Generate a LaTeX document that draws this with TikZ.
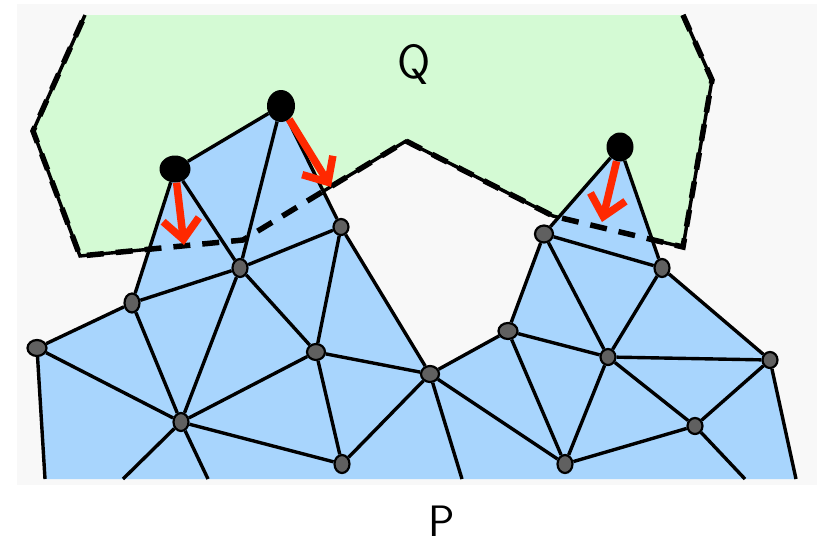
\documentclass[tikz,border=0pt]{standalone}
\usepackage{tikz}
\usetikzlibrary{positioning,shapes.geometric,arrows.meta}
\definecolor{qgreen}{RGB}{212,250,212}
\definecolor{pblue}{RGB}{168,213,253}
\definecolor{bggray}{RGB}{248,248,248}
\definecolor{vgray}{RGB}{96,96,96}
\definecolor{pushred}{RGB}{255,40,0}
\pgfdeclarelayer{back}
\pgfsetlayers{back,main}

\begin{document}
\begin{tikzpicture}[x=1pt, y=-1pt,
          edge/.style={line width=3.4pt, black},
          vtx/.style={ellipse, draw=black, line width=2.2pt, fill=vgray,
              inner sep=0pt, minimum width=15pt, minimum height=16pt},
          apex/.style={ellipse, fill=black, inner sep=0pt,
              minimum width=28pt, minimum height=28pt},
          push/.style={-{Straight Barb[length=20pt,width=36pt]},
              line width=7.5pt, pushred},
          bound/.style={line width=3.4pt, line join=miter},
          cut/.style={line width=5.5pt, dash pattern=on 17pt off 12pt},
          lbl/.style={font=\sffamily\fontsize{48}{50}\selectfont,
              inner sep=0pt, anchor=base}
        ]
        \useasboundingbox (0,0) rectangle (817,547);

        % mesh vertices of P
        \node[vtx, minimum width=19pt] (a1) at (37,348) {};
        \node[vtx, minimum height=19pt] (a2) at (132,303) {};
        \node[vtx, minimum height=18pt] (a3) at (240,268) {};
        \node[vtx] (a4)  at (341,227) {};
        \node[vtx, minimum height=18pt] (a5) at (181,422) {};
        \node[vtx, minimum width=18pt] (a6) at (316,352) {};
        \node[vtx, minimum height=18pt] (a7) at (342,464) {};
        \node[vtx, minimum width=18pt] (a8) at (430,374) {};
        \node[vtx, minimum width=19pt] (a9) at (508,331) {};
        \node[vtx, minimum width=18pt, minimum height=17pt] (a10) at (544,234) {};
        \node[vtx, minimum height=18pt] (a11) at (662,268) {};
        \node[vtx] (a12) at (608,357) {};
        \node[vtx] (a13) at (770,360) {};
        \node[vtx] (a14) at (695,426) {};
        \node[vtx, minimum height=18pt] (a15) at (565,464) {};

        % vertices of P inside Q
        \node[apex, minimum width=31pt, minimum height=27pt] (b1) at (175,169) {};
        \node[apex, minimum height=32pt] (b2) at (281,106) {};
        \node[apex, minimum width=27pt, minimum height=29pt] (b3) at (620,147) {};

        % where P is cut off
        \coordinate (s1) at (45,479);
        \coordinate (s2) at (123,479);
        \coordinate (s3) at (208,479);
        \coordinate (s4) at (462,479);
        \coordinate (s5) at (745,479);
        \coordinate (s6) at (796,479);

        % outline of Q
        \coordinate (q1) at (683,15);
        \coordinate (q2) at (712,80);
        \coordinate (q3) at (683,247);
        \coordinate (q4) at (553,216);
        \coordinate (q5) at (406,141);
        \coordinate (q6) at (243,240);
        \coordinate (q7) at (80,256);
        \coordinate (q8) at (33,131);
        \coordinate (q9) at (85,15);

        % push targets
        \coordinate (t1) at (184,245);
        \coordinate (t2) at (331,187);
        \coordinate (t3) at (602,222);

        \begin{pgfonlayer}{back}
          \fill[bggray] (17,4) rectangle (817,485);
          \fill[qgreen] (q1) -- (q2) -- (q3) -- (q4) -- (q5) -- (q6) -- (q7)
              -- (q8) -- (q9) -- cycle;
          \draw[bound] (q1) -- (q2) -- (q3) -- (q4) -- (q5) -- (q6) -- (q7)
              -- (q8) -- (q9);
          \fill[pblue] (s1) -- (a1.center) -- (a2.center) -- (b1.center)
              -- (b2.center) -- (a4.center) -- (a8.center) -- (a9.center)
              -- (a10.center) -- (b3.center) -- (a11.center) -- (a13.center)
              -- (s6) -- cycle;
          \draw[cut] (q1) -- (q2) -- (q3) -- (q4) -- (q5) -- (q6) -- (q7)
              -- (q8) -- (q9);
        \end{pgfonlayer}

        \draw[edge] (b1) -- (b2);
        \draw[edge] (b1) -- (a2);
        \draw[edge] (b1) -- (a3);
        \draw[edge] (b2) -- (a3);
        \draw[edge] (b2) -- (a4);
        \draw[edge] (a1) -- (a2);
        \draw[edge] (a2) -- (a3);
        \draw[edge] (a3) -- (a4);
        \draw[edge] (a1) -- (a5);
        \draw[edge] (a2) -- (a5);
        \draw[edge] (a3) -- (a5);
        \draw[edge] (a3) -- (a6);
        \draw[edge] (a4) -- (a6);
        \draw[edge] (a5) -- (a6);
        \draw[edge] (a5) -- (a7);
        \draw[edge] (a6) -- (a7);
        \draw[edge] (a6) -- (a8);
        \draw[edge] (a4) -- (a8);
        \draw[edge] (a7) -- (a8);
        \draw[edge] (a8) -- (a9);
        \draw[edge] (a8) -- (a15);
        \draw[edge] (a9) -- (a10);
        \draw[edge] (a10) -- (b3);
        \draw[edge] (b3) -- (a11);
        \draw[edge] (a10) -- (a11);
        \draw[edge] (a10) -- (a12);
        \draw[edge] (a11) -- (a12);
        \draw[edge] (a9) -- (a12);
        \draw[edge] (a9) -- (a15);
        \draw[edge] (a12) -- (a15);
        \draw[edge] (a12) -- (a13);
        \draw[edge] (a12) -- (a14);
        \draw[edge] (a11) -- (a13);
        \draw[edge] (a13) -- (a14);
        \draw[edge] (a14) -- (a15);
        \draw[edge] (a1) -- (s1);
        \draw[edge] (a5) -- (s2);
        \draw[edge] (a5) -- (s3);
        \draw[edge] (a8) -- (s4);
        \draw[edge] (a14) -- (s5);
        \draw[edge] (a13) -- (s6);

        \draw[push] (b1) -- (t1);
        \draw[push] (b2) -- (t2);
        \draw[push] (b3) -- (t3);

        \node[lbl] (qlbl) at (414,78) {Q};
        \node[lbl, font=\sffamily\fontsize{44}{48}\selectfont] (plbl) at (442,536) {P};
      \end{tikzpicture}
\end{document}
